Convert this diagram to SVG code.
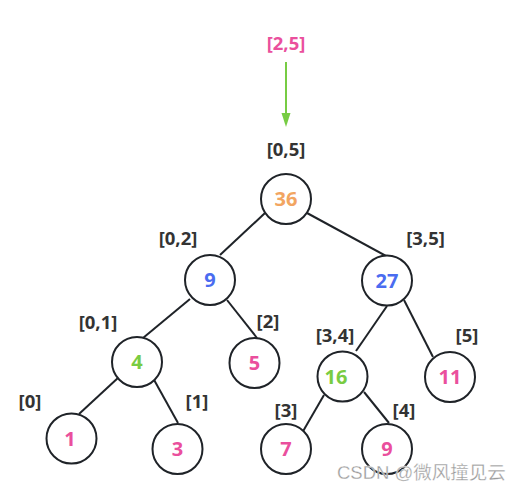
<svg xmlns="http://www.w3.org/2000/svg" width="523" height="493" viewBox="0 0 523 493">
<style>
.n{fill:#fff;stroke:#1f2328;stroke-width:2}
.v{font-family:"Open Sans","Noto Sans",sans-serif;font-weight:bold;font-size:20px;text-anchor:middle}
.l{font-family:"Open Sans","Noto Sans",sans-serif;font-weight:bold;font-size:18.5px;text-anchor:middle;fill:#333}
.pk{fill:#ea4f9d}.bl{fill:#4a6cf0}.gr{fill:#79cc42}.or{fill:#f2a561}
.e{stroke:#1f2328;stroke-width:2;fill:none}
</style>
<rect width="523" height="493" fill="#fff"/>
<g id="connectors">
<line class="e" x1="265" y1="213" x2="220" y2="255"/>
<line class="e" x1="307" y1="213" x2="386" y2="256"/>
<line class="e" x1="190" y1="299" x2="143" y2="338"/>
<line class="e" x1="227" y1="300" x2="257" y2="338"/>
<line class="e" x1="387" y1="306" x2="356" y2="351"/>
<line class="e" x1="404" y1="300" x2="433" y2="357"/>
<line class="e" x1="119" y1="377" x2="79" y2="414"/>
<line class="e" x1="153" y1="378" x2="178" y2="423"/>
<line class="e" x1="324" y1="395" x2="302" y2="433"/>
<line class="e" x1="364" y1="392" x2="389" y2="423"/>
<line x1="286" y1="62" x2="286" y2="113" stroke="#77cc44" stroke-width="2"/>
<path d="M281.5,113 L290.5,113 L286,127 Z" fill="#77cc44"/>
</g>
<g id="query"><text class="l pk" x="286" y="50">[2,5]</text></g>
<g id="n36"><circle class="n" cx="286" cy="199" r="25"/><text class="v or" x="286" y="206">36</text><text class="l" x="286" y="156">[0,5]</text></g>
<g id="n9a"><circle class="n" cx="210" cy="280" r="25"/><text class="v bl" x="210" y="287">9</text><text class="l" x="178" y="245">[0,2]</text></g>
<g id="n27"><circle class="n" cx="387" cy="280.5" r="25"/><text class="v bl" x="387" y="287.5">27</text><text class="l" x="425.5" y="245">[3,5]</text></g>
<g id="n4"><circle class="n" cx="137" cy="362" r="25"/><text class="v gr" x="137" y="369">4</text><text class="l" x="98" y="329">[0,1]</text></g>
<g id="n5"><circle class="n" cx="254.5" cy="363" r="25"/><text class="v pk" x="254.5" y="370">5</text><text class="l" x="268" y="328">[2]</text></g>
<g id="n16"><circle class="n" cx="342.5" cy="376.5" r="25"/><text class="v gr" x="336" y="383.5">16</text><text class="l" x="335" y="342">[3,4]</text></g>
<g id="n11"><circle class="n" cx="450" cy="377" r="25"/><text class="v pk" x="450" y="384">11</text><text class="l" x="467" y="342">[5]</text></g>
<g id="n1"><circle class="n" cx="71.5" cy="438.5" r="25"/><text class="v pk" x="70" y="445.5">1</text><text class="l" x="30" y="408">[0]</text></g>
<g id="n3"><circle class="n" cx="177.5" cy="449" r="25"/><text class="v pk" x="177.5" y="456">3</text><text class="l" x="197" y="408">[1]</text></g>
<g id="n7"><circle class="n" cx="286" cy="449" r="25"/><text class="v pk" x="286" y="456">7</text><text class="l" x="286" y="417">[3]</text></g>
<g id="n9b"><circle class="n" cx="387" cy="449" r="25"/><text class="v pk" x="387" y="456">9</text><text class="l" x="404" y="417">[4]</text></g>
<text x="337" y="479" font-family="'Liberation Sans','Noto Sans CJK SC',sans-serif" font-size="18.5" fill="#9a9a9a" stroke="#fff" stroke-width="0.3">CSDN @微风撞见云</text>
</svg>
